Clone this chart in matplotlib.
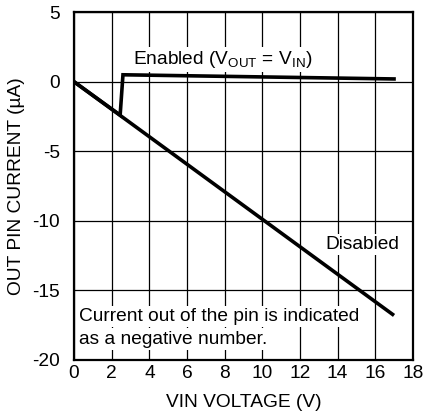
import numpy as np
import matplotlib
matplotlib.use('Agg')
import matplotlib.pyplot as plt

plt.rcParams['font.family'] = ['Liberation Sans', 'DejaVu Sans']
plt.rcParams['axes.unicode_minus'] = False

# disabled: current flows out of pin, ~ -1 uA/V
vin_dis = [0, 17]
iout_dis = [0, -16.8]
# enabled (VOUT = VIN)
vin_en = [0, 2.45, 2.6, 17]
iout_en = [0, -2.4, 0.5, 0.2]

xticks = np.arange(0, 19, 2)
yticks = np.arange(-20, 6, 5)
fs = 13.8

fig = plt.figure(figsize=(4.23, 4.20), dpi=100)
ax = fig.add_axes([0.175, 0.143, 0.801, 0.828])

ax.plot(vin_dis, iout_dis, color='k', lw=2.6, solid_capstyle='butt', zorder=3)
ax.plot(vin_en, iout_en, color='k', lw=2.6, solid_joinstyle='miter', zorder=3)

ax.set_xlim(0, 18)
ax.set_ylim(-20, 5)
ax.set_xticks(xticks)
ax.set_yticks(yticks)
ax.grid(True, color='k', lw=0.9)
ax.tick_params(length=0, labelsize=fs)
ax.tick_params(axis='x', pad=4)
ax.tick_params(axis='y', pad=10)
for s in ax.spines.values():
    s.set_linewidth(1.6)

ax.set_xlabel('VIN VOLTAGE (V)', fontsize=fs, labelpad=8)
ax.set_ylabel('OUT PIN CURRENT (\u00b5A)', fontsize=fs, labelpad=5)

wb = dict(facecolor='white', edgecolor='none', pad=1.5)
ax.text(7.9, 1.6, 'Enabled (V$_{\\mathregular{OUT}}$ = V$_{\\mathregular{IN}}$)', fontsize=fs,
        ha='center', va='center', bbox=wb, zorder=2)
ax.text(15.3, -11.7, 'Disabled', fontsize=fs, ha='center', va='center', bbox=wb, zorder=2)
ax.text(0.25, -16.9, 'Current out of the pin is indicated', fontsize=fs,
        ha='left', va='center', bbox=wb, zorder=2)
ax.text(0.25, -18.5, 'as a negative number.', fontsize=fs,
        ha='left', va='center', bbox=wb, zorder=2)

fig.savefig('out.png', dpi=100)
